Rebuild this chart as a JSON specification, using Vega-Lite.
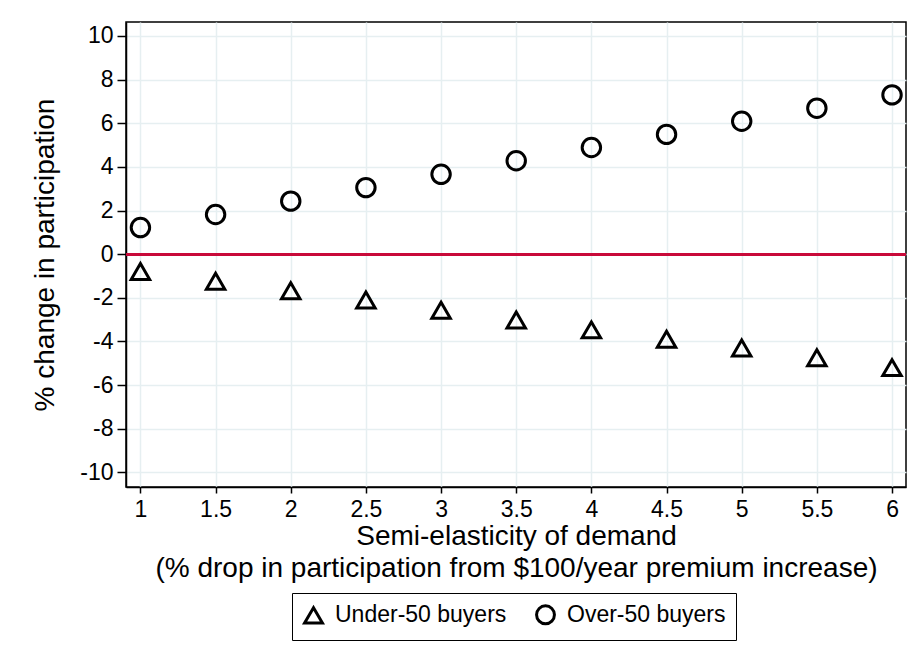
{
  "$schema": "https://vega.github.io/schema/vega-lite/v6.json",
  "autosize": {"type": "none"},
  "width": 780,
  "height": 465,
  "padding": {"left": 126, "top": 22, "right": 11, "bottom": 181},
  "background": "white",
  "config": {
    "font": "Liberation Sans",
    "view": {"stroke": "black", "strokeWidth": 1.5},
    "axis": {"labelColor": "black", "titleColor": "black", "tickColor": "black", "domainColor": "black", "titleFontWeight": "normal"}
  },
  "data": {
    "values": [
      {"e": 1, "pct": -0.79, "grp": "Under-50 buyers"},
      {"e": 1.5, "pct": -1.24, "grp": "Under-50 buyers"},
      {"e": 2, "pct": -1.68, "grp": "Under-50 buyers"},
      {"e": 2.5, "pct": -2.1, "grp": "Under-50 buyers"},
      {"e": 3, "pct": -2.57, "grp": "Under-50 buyers"},
      {"e": 3.5, "pct": -3.02, "grp": "Under-50 buyers"},
      {"e": 4, "pct": -3.47, "grp": "Under-50 buyers"},
      {"e": 4.5, "pct": -3.9, "grp": "Under-50 buyers"},
      {"e": 5, "pct": -4.3, "grp": "Under-50 buyers"},
      {"e": 5.5, "pct": -4.75, "grp": "Under-50 buyers"},
      {"e": 6, "pct": -5.2, "grp": "Under-50 buyers"},
      {"e": 1, "pct": 1.22, "grp": "Over-50 buyers"},
      {"e": 1.5, "pct": 1.82, "grp": "Over-50 buyers"},
      {"e": 2, "pct": 2.43, "grp": "Over-50 buyers"},
      {"e": 2.5, "pct": 3.05, "grp": "Over-50 buyers"},
      {"e": 3, "pct": 3.66, "grp": "Over-50 buyers"},
      {"e": 3.5, "pct": 4.28, "grp": "Over-50 buyers"},
      {"e": 4, "pct": 4.89, "grp": "Over-50 buyers"},
      {"e": 4.5, "pct": 5.49, "grp": "Over-50 buyers"},
      {"e": 5, "pct": 6.09, "grp": "Over-50 buyers"},
      {"e": 5.5, "pct": 6.69, "grp": "Over-50 buyers"},
      {"e": 6, "pct": 7.3, "grp": "Over-50 buyers"}
    ]
  },
  "layer": [
    {
      "mark": {"type": "rule", "color": "#c80a3a", "strokeWidth": 2},
      "encoding": {"y": {"datum": 0, "type": "quantitative"}}
    },
    {
      "mark": {"type": "point", "filled": false, "stroke": "black", "strokeWidth": 3, "opacity": 1, "size": 340},
      "encoding": {
        "x": {
          "field": "e", "type": "quantitative",
          "scale": {"domain": [0.904, 6.093], "nice": false, "zero": false},
          "axis": {
            "values": [1, 1.5, 2, 2.5, 3, 3.5, 4, 4.5, 5, 5.5, 6],
            "labelExpr": "toString(datum.value)",
            "title": ["Semi-elasticity of demand", "(% drop in participation from $100/year premium increase)"],
            "titleFontSize": 28, "titleLineHeight": 32, "titlePadding": 1,
            "labelFontSize": 23, "labelPadding": 5, "tickSize": 6, "tickWidth": 1.5, "domainWidth": 1.5,
            "grid": true, "gridColor": "#e6eff1", "gridWidth": 1.5, "labelFlush": false
          }
        },
        "y": {
          "field": "pct", "type": "quantitative",
          "scale": {"domain": [-10.67, 10.64], "nice": false},
          "axis": {
            "values": [-10, -8, -6, -4, -2, 0, 2, 4, 6, 8, 10],
            "labelExpr": "toString(datum.value)",
            "title": "% change in participation",
            "titleFontSize": 28, "titlePadding": 20,
            "labelFontSize": 23, "labelPadding": 4, "tickSize": 9, "tickWidth": 1.5, "domainWidth": 1.5,
            "grid": true, "gridColor": "#e6eff1", "gridWidth": 1.5, "labelFlush": false
          }
        },
        "shape": {
          "field": "grp", "type": "nominal",
          "scale": {"domain": ["Under-50 buyers", "Over-50 buyers"], "range": ["triangle-up", "circle"]},
          "legend": {
            "title": null, "orient": "none", "legendX": 166, "legendY": 571,
            "direction": "horizontal", "labelFontSize": 23, "labelColor": "black", "labelLimit": 400,
            "strokeColor": "black", "padding": 10, "columnPadding": 23, "symbolSize": 320,
            "symbolStrokeWidth": 3, "symbolStrokeColor": "black", "symbolFillColor": "transparent", "labelOffset": 10
          }
        }
      }
    }
  ]
}
